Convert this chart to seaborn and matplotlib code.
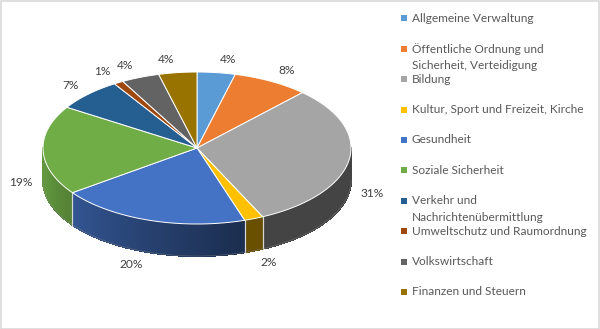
import numpy as np
import matplotlib
matplotlib.use("Agg")
import matplotlib.pyplot as plt
from matplotlib.patches import Rectangle
from matplotlib.collections import PolyCollection
import seaborn as sns

# Budget shares by function (percent)
categories = [
    "Allgemeine Verwaltung",
    "Öffentliche Ordnung und\nSicherheit, Verteidigung",
    "Bildung",
    "Kultur, Sport und Freizeit, Kirche",
    "Gesundheit",
    "Soziale Sicherheit",
    "Verkehr und\nNachrichtenübermittlung",
    "Umweltschutz und Raumordnung",
    "Volkswirtschaft",
    "Finanzen und Steuern",
]
shares = [4, 8, 31, 2, 20, 19, 7, 1, 4, 4]
colors_hex = ["#5B9BD5", "#ED7D31", "#A5A5A5", "#FFC000", "#4472C4",
              "#70AD47", "#255E91", "#9E480E", "#636363", "#997300"]

sns.set_theme(style="white")
plt.rcParams["font.family"] = ["Lato", "DejaVu Sans"]
palette = sns.color_palette(colors_hex)

W, H = 600, 329
fig = plt.figure(figsize=(W / 100, H / 100), dpi=100)
ax = fig.add_axes([0, 0, 1, 1])
ax.set_xlim(0, W)
ax.set_ylim(H, 0)
ax.axis("off")

# Pie geometry (screen units, y grows downward)
cx, cy, rx, ry, depth = 197, 148, 154, 76, 32


def rim(a):
    """Point on the top rim for a compass angle (radians, clockwise from top)."""
    return cx + rx * np.sin(a), cy - ry * np.cos(a)


def shade(a):
    """Darkening factor of the side wall, lighter on the left."""
    deg = np.degrees(a) % 360
    t = np.clip((deg - 165) / (260 - 165), 0, 1)
    return 0.41 + 0.46 * t


vals = np.asarray(shares, dtype=float)
bounds = np.concatenate([[0], np.cumsum(vals)]) / vals.sum() * 2 * np.pi

# Side walls (front half only)
for i, col in enumerate(palette):
    a0, a1 = bounds[i], bounds[i + 1]
    s0, s1 = max(a0, np.pi / 2), min(a1, 3 * np.pi / 2)
    if s1 <= s0:
        continue
    steps = np.linspace(s0, s1, max(2, int((s1 - s0) / 0.01)))
    quads, fcs = [], []
    for u, v in zip(steps[:-1], steps[1:]):
        xu, yu = rim(u)
        xv, yv = rim(v)
        quads.append([(xu, yu), (xv, yv), (xv, yv + depth), (xu, yu + depth)])
        f = shade((u + v) / 2)
        fcs.append(tuple(np.array(col) * f))
    ax.add_collection(PolyCollection(quads, facecolors=fcs, edgecolors=fcs,
                                     linewidths=0.8, antialiaseds=False,
                                     zorder=1))
    # thin seams where neighbouring walls meet
    for b in (a0, a1):
        if np.pi / 2 < b < 3 * np.pi / 2:
            bx, by = rim(b)
            ax.plot([bx, bx], [by, by + depth], color="#d8d8d8", lw=0.8, zorder=2)

# soft outline along the bottom of the wall
t = np.linspace(np.pi / 2, 3 * np.pi / 2, 200)
bx, by = rim(t)
ax.plot(bx, by + depth, color="#888888", lw=0.5, alpha=0.5, zorder=2)

# Top faces
for i, col in enumerate(palette):
    a0, a1 = bounds[i], bounds[i + 1]
    t = np.linspace(a0, a1, max(3, int((a1 - a0) / 0.01)))
    xs, ys = rim(t)
    ax.fill(np.r_[cx, xs], np.r_[cy, ys], facecolor=col, edgecolor="white",
            linewidth=0.7, zorder=3)

# Percentage labels
for i in range(len(vals)):
    m = (bounds[i] + bounds[i + 1]) / 2
    sx, cc = np.sin(m), np.cos(m)
    ex, ey = rim(m)
    if cc < 0.4:
        ey += depth
    lx = ex + 11 * np.sign(sx) * np.sqrt(abs(sx))
    ly = ey - 13 * cc
    ax.text(lx, ly, f"{shares[i]}%", ha="left" if sx > 0 else "right",
            va="center", fontsize=8.6, color="#404040", zorder=5)

# Legend
lx0, ly0, step = 401, 18.3, 30.4
for i, (name, col) in enumerate(zip(categories, palette)):
    y = ly0 + step * i
    ax.add_patch(Rectangle((lx0, y - 3), 6, 6, facecolor=col, edgecolor="none"))
    for j, line in enumerate(name.split("\n")):
        ax.text(lx0 + 11, y + 16.5 * j, line, ha="left", va="center",
                fontsize=8.6, color="#595959")

# Chart frame
fig.patches.append(Rectangle((0.5 / W, 0.5 / H), 1 - 1.5 / W, 1 - 1.5 / H,
                             transform=fig.transFigure, fill=False,
                             edgecolor="#d9d9d9", linewidth=1.2))

fig.savefig("out.png", dpi=100)
